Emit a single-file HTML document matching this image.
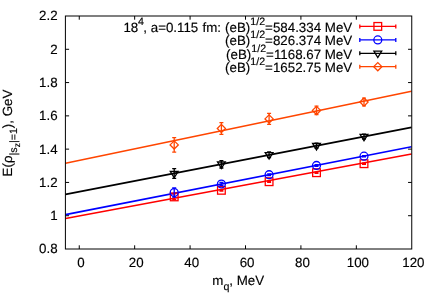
<!DOCTYPE html>
<html><head><meta charset="utf-8"><title>plot</title>
<style>html,body{margin:0;padding:0;background:#fff;}svg{display:block;}text{font-family:"Liberation Sans",sans-serif;fill:#000;text-rendering:geometricPrecision;stroke:#000;stroke-width:0.15px;}</style></head>
<body>
<svg width="436" height="305" viewBox="0 0 436 305">
<defs><filter id="f" x="0" y="0" width="436" height="305" filterUnits="userSpaceOnUse"><feOffset dx="0" dy="0"/></filter></defs>
<rect x="0" y="0" width="436" height="305" fill="#ffffff"/>
<g stroke="#000" stroke-width="1" fill="none">
<path d="M65.4 215.71h3.7M411.75 215.71h-3.7"/>
<path d="M65.4 182.43h3.7M411.75 182.43h-3.7"/>
<path d="M65.4 149.14h3.7M411.75 149.14h-3.7"/>
<path d="M65.4 115.86h3.7M411.75 115.86h-3.7"/>
<path d="M65.4 82.57h3.7M411.75 82.57h-3.7"/>
<path d="M65.4 49.29h3.7M411.75 49.29h-3.7"/>
<path d="M79.25 249.0v-3.7M79.25 16.0v3.7"/>
<path d="M134.67 249.0v-3.7M134.67 16.0v3.7"/>
<path d="M190.09 249.0v-3.7M190.09 16.0v3.7"/>
<path d="M245.50 249.0v-3.7M245.50 16.0v3.7"/>
<path d="M300.92 249.0v-3.7M300.92 16.0v3.7"/>
<path d="M356.33 249.0v-3.7M356.33 16.0v3.7"/>
</g>
<path d="M65.5 218.5L411.5 154.0" stroke="#ff0000" stroke-width="1.6" fill="none"/>
<path d="M65.5 214.6L411.5 146.7" stroke="#0000ff" stroke-width="1.6" fill="none"/>
<path d="M65.5 194.4L411.5 127.4" stroke="#000000" stroke-width="1.6" fill="none"/>
<path d="M65.5 163.2L411.5 91.2" stroke="#ff4500" stroke-width="1.6" fill="none"/>
<g stroke="#ff0000" stroke-width="1.3" fill="none">
<path d="M174.20 193.80V199.60M172.20 193.80h4M172.20 199.60h4"/>
<rect x="170.35" y="193.05" width="7.70" height="7.70" fill="none" stroke="#ff0000" stroke-width="1.3"/>
<path d="M221.40 189.60V191.00M219.40 189.60h4M219.40 191.00h4"/>
<rect x="217.55" y="186.45" width="7.70" height="7.70" fill="none" stroke="#ff0000" stroke-width="1.3"/>
<path d="M269.10 181.10V182.30M267.10 181.10h4M267.10 182.30h4"/>
<rect x="265.25" y="177.85" width="7.70" height="7.70" fill="none" stroke="#ff0000" stroke-width="1.3"/>
<path d="M316.50 172.10V173.30M314.50 172.10h4M314.50 173.30h4"/>
<rect x="312.65" y="168.85" width="7.70" height="7.70" fill="none" stroke="#ff0000" stroke-width="1.3"/>
<path d="M364.00 163.10V164.30M362.00 163.10h4M362.00 164.30h4"/>
<rect x="360.15" y="159.85" width="7.70" height="7.70" fill="none" stroke="#ff0000" stroke-width="1.3"/>
</g>
<g stroke="#0000ff" stroke-width="1.3" fill="none">
<path d="M174.20 188.00V197.20M172.20 188.00h4M172.20 197.20h4"/>
<circle cx="174.20" cy="192.50" r="3.95" fill="none" stroke="#0000ff" stroke-width="1.3"/>
<path d="M221.40 182.50V185.50M219.40 182.50h4M219.40 185.50h4"/>
<circle cx="221.40" cy="184.00" r="3.95" fill="none" stroke="#0000ff" stroke-width="1.3"/>
<path d="M269.10 173.80V175.60M267.10 173.80h4M267.10 175.60h4"/>
<circle cx="269.10" cy="174.70" r="3.95" fill="none" stroke="#0000ff" stroke-width="1.3"/>
<path d="M316.50 164.65V166.25M314.50 164.65h4M314.50 166.25h4"/>
<circle cx="316.50" cy="165.45" r="3.95" fill="none" stroke="#0000ff" stroke-width="1.3"/>
<path d="M364.00 155.55V156.75M362.00 155.55h4M362.00 156.75h4"/>
<circle cx="364.00" cy="156.15" r="3.95" fill="none" stroke="#0000ff" stroke-width="1.3"/>
</g>
<g stroke="#000000" stroke-width="1.3" fill="none">
<path d="M174.20 168.60V178.40M172.20 168.60h4M172.20 178.40h4"/>
<path d="M170.30 171.40L178.10 171.40L174.20 177.80Z" fill="none" stroke="#000000" stroke-width="1.3" stroke-linejoin="miter"/>
<path d="M221.40 160.70V168.00M219.40 160.70h4M219.40 168.00h4"/>
<path d="M217.50 162.00L225.30 162.00L221.40 168.40Z" fill="none" stroke="#000000" stroke-width="1.3" stroke-linejoin="miter"/>
<path d="M269.10 152.00V157.60M267.10 152.00h4M267.10 157.60h4"/>
<path d="M265.20 152.60L273.00 152.60L269.10 159.00Z" fill="none" stroke="#000000" stroke-width="1.3" stroke-linejoin="miter"/>
<path d="M316.50 143.20V148.20M314.50 143.20h4M314.50 148.20h4"/>
<path d="M312.60 143.50L320.40 143.50L316.50 149.90Z" fill="none" stroke="#000000" stroke-width="1.3" stroke-linejoin="miter"/>
<path d="M364.00 134.20V138.80M362.00 134.20h4M362.00 138.80h4"/>
<path d="M360.10 134.30L367.90 134.30L364.00 140.70Z" fill="none" stroke="#000000" stroke-width="1.3" stroke-linejoin="miter"/>
</g>
<g stroke="#ff4500" stroke-width="1.3" fill="none">
<path d="M174.20 137.70V152.10M172.20 137.70h4M172.20 152.10h4"/>
<path d="M170.10 144.90L174.20 140.80L178.30 144.90L174.20 149.00Z" fill="none" stroke="#ff4500" stroke-width="1.3"/>
<path d="M221.40 122.70V134.30M219.40 122.70h4M219.40 134.30h4"/>
<path d="M217.30 128.50L221.40 124.40L225.50 128.50L221.40 132.60Z" fill="none" stroke="#ff4500" stroke-width="1.3"/>
<path d="M269.10 113.40V124.30M267.10 113.40h4M267.10 124.30h4"/>
<path d="M265.00 118.90L269.10 114.80L273.20 118.90L269.10 123.00Z" fill="none" stroke="#ff4500" stroke-width="1.3"/>
<path d="M316.50 106.10V114.50M314.50 106.10h4M314.50 114.50h4"/>
<path d="M312.40 110.40L316.50 106.30L320.60 110.40L316.50 114.50Z" fill="none" stroke="#ff4500" stroke-width="1.3"/>
<path d="M364.00 98.20V105.90M362.00 98.20h4M362.00 105.90h4"/>
<path d="M359.90 102.00L364.00 97.90L368.10 102.00L364.00 106.10Z" fill="none" stroke="#ff4500" stroke-width="1.3"/>
</g>
<rect x="65.4" y="16.0" width="346.35" height="233.00" fill="none" stroke="#000" stroke-width="1.0"/>
<g stroke="#ff0000" stroke-width="1.3" fill="none"><path d="M359.8 26.4H395.8M359.8 24.4v4M395.8 24.4v4"/><rect x="373.95" y="22.55" width="7.70" height="7.70" fill="none" stroke="#ff0000" stroke-width="1.3"/></g>
<g stroke="#0000ff" stroke-width="1.3" fill="none"><path d="M359.8 39.9H395.8M359.8 37.9v4M395.8 37.9v4"/><circle cx="377.80" cy="39.90" r="3.95" fill="none" stroke="#0000ff" stroke-width="1.3"/></g>
<g stroke="#000000" stroke-width="1.3" fill="none"><path d="M359.8 53.3H395.8M359.8 51.3v4M395.8 51.3v4"/><path d="M373.90 51.10L381.70 51.10L377.80 57.50Z" fill="none" stroke="#000000" stroke-width="1.3" stroke-linejoin="miter"/></g>
<g stroke="#ff4500" stroke-width="1.3" fill="none"><path d="M359.8 66.65H395.8M359.8 64.65v4M395.8 64.65v4"/><path d="M373.70 66.65L377.80 62.55L381.90 66.65L377.80 70.75Z" fill="none" stroke="#ff4500" stroke-width="1.3"/></g>
<g filter="url(#f)">
<g font-size="13.33">
<text x="57.6" y="253.40" text-anchor="end">0.8</text>
<text x="57.6" y="220.11" text-anchor="end">1</text>
<text x="57.6" y="186.83" text-anchor="end">1.2</text>
<text x="57.6" y="153.54" text-anchor="end">1.4</text>
<text x="57.6" y="120.26" text-anchor="end">1.6</text>
<text x="57.6" y="86.97" text-anchor="end">1.8</text>
<text x="57.6" y="53.69" text-anchor="end">2</text>
<text x="57.6" y="20.40" text-anchor="end">2.2</text>
<text x="80.85" y="266.8" text-anchor="middle">0</text>
<text x="136.27" y="266.8" text-anchor="middle">20</text>
<text x="191.69" y="266.8" text-anchor="middle">40</text>
<text x="247.10" y="266.8" text-anchor="middle">60</text>
<text x="302.52" y="266.8" text-anchor="middle">80</text>
<text x="357.93" y="266.8" text-anchor="middle">100</text>
<text x="413.35" y="266.8" text-anchor="middle">120</text>
</g>
<text x="352.2" y="31.80" font-size="13.33" text-anchor="end">18<tspan font-size="10.66" dy="-7.2" dx="-0.3">4</tspan><tspan dy="7.2" dx="-0.6">, a=0.115</tspan><tspan dx="0.5"> fm:</tspan><tspan dx="0.4"> </tspan>(eB)<tspan font-size="10.66" dy="-7.0">1/2</tspan><tspan dy="7.0">=584.334 MeV</tspan></text>
<text x="352.2" y="45.30" font-size="13.33" text-anchor="end">(eB)<tspan font-size="10.66" dy="-7.0">1/2</tspan><tspan dy="7.0">=826.374 MeV</tspan></text>
<text x="352.2" y="58.70" font-size="13.33" text-anchor="end">(eB)<tspan font-size="10.66" dy="-7.0">1/2</tspan><tspan dy="7.0">=1168.67 MeV</tspan></text>
<text x="352.2" y="72.05" font-size="13.33" text-anchor="end">(eB)<tspan font-size="10.66" dy="-7.0">1/2</tspan><tspan dy="7.0">=1652.75 MeV</tspan></text>
<text x="212.3" y="285.2" font-size="13.33">m<tspan font-size="10.66" dy="4.6">q</tspan><tspan dy="-4.6">, MeV</tspan></text>
<text transform="translate(12.3,176.4) rotate(-90)" font-size="13.33">E(ρ<tspan font-size="10.66" dy="4.4">|s</tspan><tspan font-size="8.53" dy="3.6">z</tspan><tspan font-size="10.66" dy="-3.6">|=1</tspan><tspan dy="-4.4">), GeV</tspan></text>
</g>
</svg>
</body></html>
